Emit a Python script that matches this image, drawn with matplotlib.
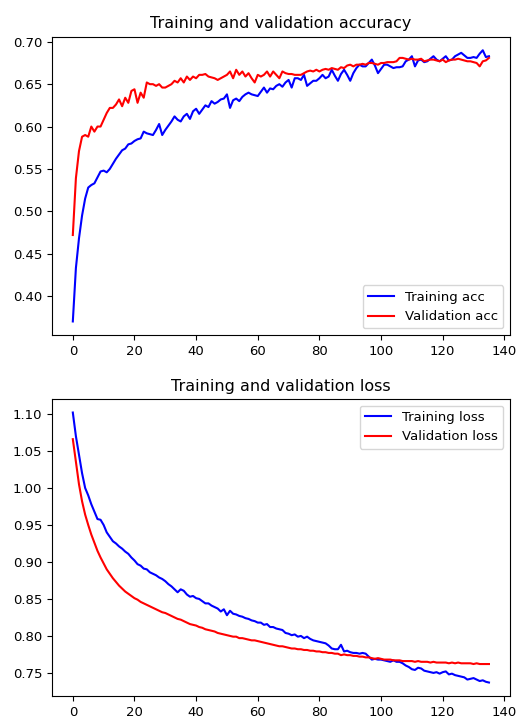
import matplotlib
matplotlib.use("Agg")
import matplotlib.pyplot as plt

train_acc = [0.370, 0.433, 0.468, 0.495, 0.515, 0.528, 0.531, 0.533, 0.540, 0.547,
             0.548, 0.546, 0.550, 0.556, 0.562, 0.567, 0.572, 0.574, 0.579, 0.580,
             0.583, 0.585, 0.586, 0.594, 0.592, 0.591, 0.590, 0.596, 0.603, 0.590,
             0.596, 0.601, 0.606, 0.612, 0.608, 0.606, 0.612, 0.615, 0.609, 0.618,
             0.621, 0.615, 0.620, 0.625, 0.623, 0.630, 0.627, 0.629, 0.632, 0.633,
             0.638, 0.622, 0.631, 0.633, 0.630, 0.635, 0.638, 0.640, 0.638, 0.637,
             0.636, 0.641, 0.646, 0.640, 0.645, 0.644, 0.648, 0.650, 0.647, 0.652,
             0.655, 0.646, 0.657, 0.657, 0.655, 0.661, 0.648, 0.651, 0.654, 0.654,
             0.657, 0.661, 0.657, 0.659, 0.667, 0.660, 0.654, 0.662, 0.667, 0.661,
             0.654, 0.663, 0.669, 0.673, 0.671, 0.671, 0.675, 0.679, 0.672, 0.663,
             0.668, 0.673, 0.673, 0.671, 0.669, 0.670, 0.670, 0.671, 0.677, 0.679,
             0.683, 0.671, 0.678, 0.679, 0.676, 0.677, 0.680, 0.683, 0.679, 0.677,
             0.680, 0.683, 0.678, 0.679, 0.683, 0.685, 0.687, 0.684, 0.681, 0.681,
             0.682, 0.681, 0.686, 0.690, 0.682, 0.683]

val_acc = [0.472, 0.539, 0.571, 0.588, 0.590, 0.588, 0.600, 0.594, 0.600, 0.600,
           0.608, 0.616, 0.622, 0.622, 0.626, 0.632, 0.624, 0.634, 0.628, 0.642,
           0.644, 0.628, 0.640, 0.634, 0.652, 0.650, 0.650, 0.648, 0.650, 0.646,
           0.646, 0.648, 0.650, 0.654, 0.652, 0.657, 0.652, 0.659, 0.655, 0.659,
           0.657, 0.661, 0.661, 0.662, 0.659, 0.658, 0.657, 0.655, 0.657, 0.659,
           0.661, 0.665, 0.657, 0.667, 0.661, 0.665, 0.659, 0.663, 0.657, 0.652,
           0.661, 0.659, 0.661, 0.665, 0.659, 0.665, 0.661, 0.657, 0.665, 0.663,
           0.662, 0.662, 0.661, 0.661, 0.661, 0.663, 0.665, 0.666, 0.665, 0.667,
           0.665, 0.667, 0.668, 0.667, 0.669, 0.668, 0.667, 0.670, 0.669, 0.672,
           0.673, 0.671, 0.673, 0.673, 0.674, 0.673, 0.675, 0.675, 0.674, 0.673,
           0.675, 0.675, 0.676, 0.676, 0.676, 0.677, 0.681, 0.681, 0.680, 0.679,
           0.680, 0.679, 0.679, 0.680, 0.677, 0.678, 0.679, 0.679, 0.678, 0.677,
           0.679, 0.676, 0.678, 0.679, 0.679, 0.680, 0.679, 0.678, 0.677, 0.677,
           0.676, 0.675, 0.671, 0.677, 0.678, 0.681]

train_loss = [1.102, 1.070, 1.045, 1.020, 1.000, 0.990, 0.978, 0.968, 0.958, 0.957,
              0.950, 0.940, 0.934, 0.928, 0.925, 0.921, 0.918, 0.914, 0.911, 0.906,
              0.902, 0.897, 0.895, 0.891, 0.890, 0.886, 0.884, 0.882, 0.879, 0.877,
              0.874, 0.870, 0.867, 0.863, 0.859, 0.863, 0.861, 0.856, 0.853, 0.854,
              0.851, 0.850, 0.847, 0.844, 0.844, 0.841, 0.839, 0.837, 0.833, 0.836,
              0.828, 0.834, 0.830, 0.829, 0.827, 0.826, 0.824, 0.823, 0.821, 0.820,
              0.818, 0.818, 0.815, 0.816, 0.812, 0.812, 0.810, 0.809, 0.808, 0.804,
              0.803, 0.801, 0.802, 0.799, 0.800, 0.797, 0.799, 0.796, 0.794, 0.793,
              0.792, 0.791, 0.790, 0.787, 0.783, 0.782, 0.782, 0.788, 0.779, 0.780,
              0.778, 0.777, 0.777, 0.776, 0.777, 0.776, 0.772, 0.768, 0.769, 0.768,
              0.768, 0.767, 0.766, 0.765, 0.767, 0.765, 0.765, 0.763, 0.760, 0.758,
              0.755, 0.754, 0.757, 0.756, 0.753, 0.752, 0.751, 0.750, 0.751, 0.749,
              0.751, 0.752, 0.748, 0.749, 0.747, 0.746, 0.745, 0.744, 0.741, 0.742,
              0.743, 0.741, 0.739, 0.740, 0.738, 0.737]

val_loss = [1.066, 1.035, 1.005, 0.982, 0.964, 0.950, 0.937, 0.926, 0.915, 0.906,
            0.898, 0.890, 0.884, 0.878, 0.873, 0.868, 0.864, 0.860, 0.857, 0.854,
            0.851, 0.849, 0.846, 0.844, 0.842, 0.840, 0.838, 0.836, 0.834, 0.832,
            0.831, 0.829, 0.827, 0.825, 0.823, 0.822, 0.820, 0.818, 0.816, 0.815,
            0.814, 0.812, 0.811, 0.809, 0.808, 0.807, 0.806, 0.804, 0.803, 0.802,
            0.801, 0.800, 0.799, 0.799, 0.797, 0.797, 0.796, 0.795, 0.794, 0.794,
            0.793, 0.792, 0.791, 0.790, 0.789, 0.788, 0.787, 0.786, 0.786, 0.785,
            0.784, 0.783, 0.783, 0.782, 0.782, 0.781, 0.781, 0.780, 0.780, 0.779,
            0.779, 0.778, 0.778, 0.777, 0.777, 0.776, 0.776, 0.774, 0.775, 0.774,
            0.774, 0.773, 0.773, 0.772, 0.772, 0.771, 0.771, 0.770, 0.769, 0.770,
            0.769, 0.768, 0.768, 0.768, 0.767, 0.767, 0.767, 0.766, 0.766, 0.766,
            0.766, 0.765, 0.766, 0.765, 0.765, 0.765, 0.764, 0.765, 0.764, 0.764,
            0.764, 0.764, 0.763, 0.764, 0.763, 0.764, 0.763, 0.763, 0.763, 0.763,
            0.762, 0.763, 0.762, 0.762, 0.762, 0.762]

epochs = list(range(len(train_acc)))

plt.rcParams['xtick.labelsize'] = 9.5
plt.rcParams['ytick.labelsize'] = 9.5

fig = plt.figure(figsize=(5.17, 7.2), dpi=100)
ax1 = fig.add_axes([0.1006, 0.5347, 0.8854, 0.4143])
ax2 = fig.add_axes([0.1006, 0.0333, 0.8854, 0.4125])

ax1.plot(epochs, train_acc, color='b', label='Training acc')
ax1.plot(epochs, val_acc, color='r', label='Validation acc')
ax1.set_title('Training and validation accuracy', fontsize=11.5)
ax1.legend(loc='lower right', fontsize=9.5)

ax2.plot(epochs, train_loss, color='b', label='Training loss')
ax2.plot(epochs, val_loss, color='r', label='Validation loss')
ax2.set_title('Training and validation loss', fontsize=11.5)
ax2.legend(loc='upper right', fontsize=9.5)

for ax in (ax1, ax2):
    ax.set_xticks([0, 20, 40, 60, 80, 100, 120, 140])

fig.savefig('out.png', dpi=100)
